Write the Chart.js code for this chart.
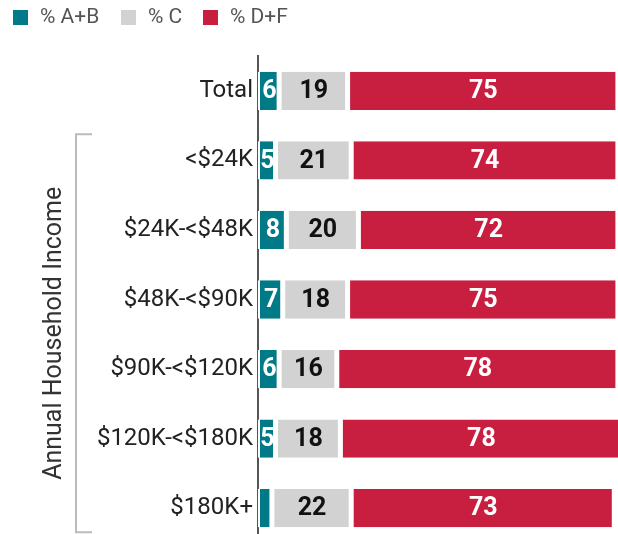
<!DOCTYPE html>
<html>
<head>
<meta charset="utf-8">
<script src="https://cdn.jsdelivr.net/npm/chart.js@4/dist/chart.umd.min.js"></script>
<style>
  html, body { margin: 0; padding: 0; background: #fff; overflow: hidden; width: 618px; height: 534px; }
  canvas { display: block; }
</style>
</head>
<body>
<canvas id="c" width="622" height="543"></canvas>
<script>
const categories = ["Total", "<$24K", "$24K-<$48K", "$48K-<$90K", "$90K-<$120K", "$120K-<$180K", "$180K+"];
const seriesNames = ["% A+B", "% C", "% D+F"];
const valuesAB = [6, 5, 8, 7, 6, 5, 4];
const valuesC  = [19, 21, 20, 18, 16, 18, 22];
const valuesDF = [75, 74, 72, 75, 78, 78, 73];
const colors = ["#007a87", "#d2d2d2", "#c81e40"];
const labelColors = ["#ffffff", "#111111", "#ffffff"];
const groupTitle = "Annual Household Income";

const FONT = "Roboto, 'Noto Sans', sans-serif";

const dataLabels = {
  id: 'dataLabels',
  afterDatasetsDraw(chart) {
    const ctx = chart.ctx;
    ctx.save();
    ctx.font = "bold 25px " + FONT;
    ctx.textAlign = 'center';
    ctx.textBaseline = 'middle';
    chart.data.datasets.forEach((ds, di) => {
      const meta = chart.getDatasetMeta(di);
      meta.data.forEach((el, i) => {
        const v = ds.data[i];
        if (v < 5) return;
        const p = el.getProps(['x', 'y', 'base'], true);
        const cx = (p.x + p.base) / 2 + (di === 0 ? 0.5 : 0);
        ctx.fillStyle = labelColors[di];
        ctx.fillText(String(v), cx, p.y + 1);
      });
    });
    ctx.restore();
  }
};

const extras = {
  id: 'extras',
  afterDraw(chart) {
    const ctx = chart.ctx;
    const y = chart.scales.y;
    ctx.save();
    // legend
    ctx.font = "21px " + FONT;
    ctx.textBaseline = 'middle';
    ctx.textAlign = 'left';
    const lx = [13, 121, 203];
    seriesNames.forEach((n, i) => {
      ctx.fillStyle = colors[i];
      ctx.fillRect(lx[i], 10, 15, 15);
      ctx.fillStyle = '#555';
      ctx.fillText(n, lx[i] + 27, 18);
    });
    // bracket
    const top = y.getPixelForValue(1) - 26;
    const bot = y.getPixelForValue(6) + 24;
    ctx.strokeStyle = '#bbbbbb';
    ctx.lineWidth = 2;
    ctx.beginPath();
    ctx.moveTo(92, top);
    ctx.lineTo(76, top);
    ctx.lineTo(76, bot);
    ctx.lineTo(92, bot);
    ctx.stroke();
    // rotated title
    ctx.translate(55, (top + bot) / 2);
    ctx.rotate(-Math.PI / 2);
    ctx.textAlign = 'center';
    ctx.textBaseline = 'middle';
    ctx.fillStyle = '#333';
    ctx.font = "25px " + FONT;
    ctx.fillText(groupTitle, 0, 0);
    ctx.restore();
  }
};

const seriesValues = [valuesAB, valuesC, valuesDF];

new Chart(document.getElementById('c'), {
  type: 'bar',
  data: {
    labels: categories,
    datasets: seriesNames.map((n, i) => ({
      label: n,
      data: seriesValues[i],
      backgroundColor: colors[i],
      borderColor: '#ffffff',
      borderWidth: { left: 2, right: 3, top: 0, bottom: 0 },
      borderSkipped: false,
      barPercentage: 0.55,
      categoryPercentage: 1.0
    }))
  },
  options: {
    indexAxis: 'y',
    responsive: false,
    animation: false,
    layout: { padding: { top: 56, bottom: 0, left: 0, right: 0 } },
    plugins: { legend: { display: false }, tooltip: { enabled: false } },
    scales: {
      x: { stacked: true, min: 0, max: 101, display: false },
      y: {
        stacked: true,
        grid: { display: false, drawTicks: false },
        border: { display: true, color: '#555555', width: 2 },
        ticks: { color: '#222', font: { size: 24, family: FONT }, padding: 5 },
        afterFit(scale) { scale.width = 258; scale.paddingTop = 0; scale.paddingBottom = 0; }
      }
    }
  },
  plugins: [dataLabels, extras]
});
</script>
</body>
</html>
